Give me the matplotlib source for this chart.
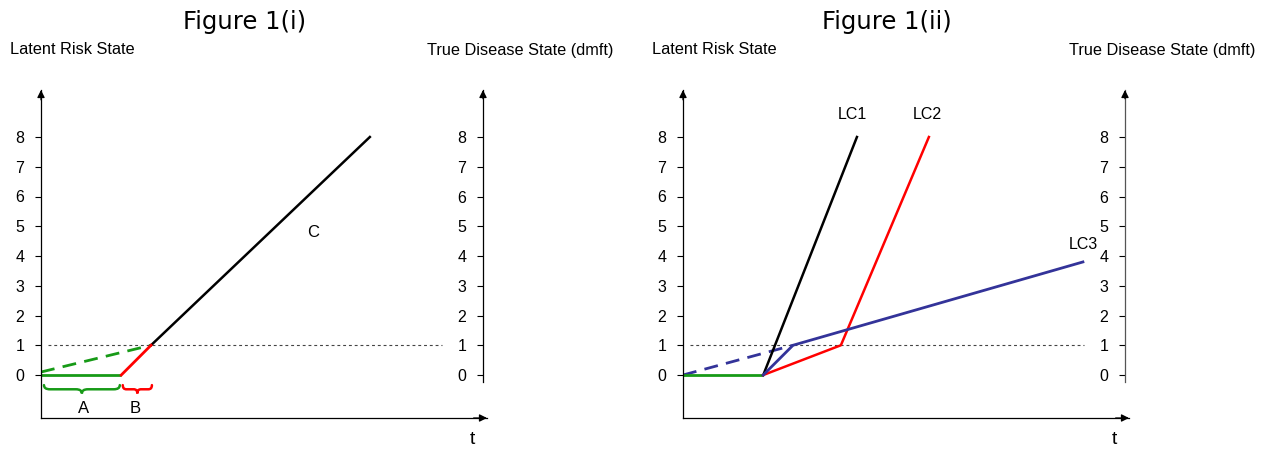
import numpy as np
import matplotlib
matplotlib.use("Agg")
import matplotlib.pyplot as plt
from matplotlib.path import Path
from matplotlib.patches import PathPatch

W, H = 1265, 450
DPI = 100

# ---- data (x in time units, y in risk / dmft units) ----
yticks = [0, 1, 2, 3, 4, 5, 6, 7, 8]
threshold = 1.0

# Figure 1(i)
p1_green_x = [0.0, 2.7]
p1_green_y = [0.0, 0.0]
p1_gdash_x = [0.0, 3.7]
p1_gdash_y = [0.1, 1.0]
p1_red_x = [2.7, 3.7]
p1_red_y = [0.0, 1.0]
p1_black_x = [3.7, 11.06]
p1_black_y = [1.0, 8.0]

# Figure 1(ii)
p2_green_x = [0.0, 2.7]
p2_green_y = [0.0, 0.0]
p2_bdash_x = [0.0, 3.7]
p2_bdash_y = [0.0, 1.0]
lc1_x = [2.7, 5.85]
lc1_y = [0.0, 8.0]
lc2_x = [2.7, 5.31, 8.27]
lc2_y = [0.0, 1.0, 8.0]
lc3_x = [2.7, 3.7, 13.45]
lc3_y = [0.0, 1.0, 3.8]

GREEN = "#179a17"
RED = "#ff0000"
BLUE = "#333399"
SANS = "Liberation Sans"
TICK_FS = 11.5

fig = plt.figure(figsize=(W / DPI, H / DPI), dpi=DPI)

PX = 29.75  # pixels per data unit
YMIN, YMAX = -43 / PX, 285 / PX
XMAX = 15.0


def px_rect(left, top, right, bottom):
    return [left / W, 1 - bottom / H, (right - left) / W, (bottom - top) / H]


def arrow(ax, start, end, color="black"):
    ax.annotate("", xy=end, xytext=start, xycoords="axes fraction",
                textcoords="axes fraction",
                arrowprops=dict(arrowstyle="-|>", color=color, lw=0.9,
                                mutation_scale=11, shrinkA=0, shrinkB=0),
                annotation_clip=False)


def brace(ax, x0, x1, y, depth, color, r=0.2):
    xm = (x0 + x1) / 2
    h = depth / 2
    verts = [(x0, y), (x0, y - h), (x0 + r, y - h),
             (xm - r, y - h),
             (xm, y - h), (xm, y - depth),
             (xm, y - h), (xm + r, y - h),
             (x1 - r, y - h),
             (x1, y - h), (x1, y)]
    codes = [Path.MOVETO, Path.CURVE3, Path.CURVE3,
             Path.LINETO,
             Path.CURVE3, Path.CURVE3,
             Path.CURVE3, Path.CURVE3,
             Path.LINETO,
             Path.CURVE3, Path.CURVE3]
    ax.add_patch(PathPatch(Path(verts, codes), fill=False, edgecolor=color,
                           lw=1.8, clip_on=False, capstyle="round"))


def style_ticks(a):
    a.set_xticks([])
    a.set_yticks(yticks)
    a.tick_params(axis="y", direction="out", length=4, width=0.8, pad=8,
                  labelsize=TICK_FS)
    for lab in a.get_yticklabels():
        lab.set_fontfamily(SANS)


def make_panel(x0px, title, raxis_color="black"):
    ax = fig.add_axes(px_rect(x0px, 90, x0px + 446, 418))
    ax.set_xlim(0, XMAX)
    ax.set_ylim(YMIN, YMAX)
    ax.patch.set_visible(False)
    for s in ("top", "right"):
        ax.spines[s].set_visible(False)
    for s in ("left", "bottom"):
        ax.spines[s].set_linewidth(0.9)
    style_ticks(ax)
    arrow(ax, (0, 0.97), (0, 1.0))
    arrow(ax, (0.97, 0), (1.0, 0))

    # right-hand axis: true disease state
    rax = fig.add_axes(px_rect(x0px + 442, 90, x0px + 443, 382))
    rax.set_ylim(-7 / PX, YMAX)
    rax.patch.set_visible(False)
    for s in ("top", "right", "bottom"):
        rax.spines[s].set_visible(False)
    rax.spines["left"].set_linewidth(0.9)
    rax.spines["left"].set_color(raxis_color)
    style_ticks(rax)
    arrow(rax, (0, 0.97), (0, 1.0))

    # threshold line
    ax.plot([0.24, 13.5], [threshold, threshold], color="#444444", lw=0.8,
            dashes=(2.6, 2.6))

    fig.text((x0px + 204) / W, 1 - 22 / H, title, fontsize=17.5,
             family="DejaVu Sans", ha="center", va="center")
    fig.text((x0px - 31) / W, 1 - 50 / H, "Latent Risk State", fontsize=11.8,
             family=SANS, ha="left", va="center")
    fig.text((x0px + 479) / W, 1 - 50 / H, "True Disease State (dmft)",
             fontsize=11.7, family=SANS, ha="center", va="center")
    ax.text(14.5, -65 / PX, "t", fontsize=14, family=SANS, ha="center",
            va="center", clip_on=False)
    return ax


# ---- Figure 1(i) ----
ax1 = make_panel(41, "Figure 1(i)")
ax1.plot(p1_gdash_x, p1_gdash_y, color=GREEN, lw=2, dashes=(5, 3))
ax1.plot(p1_green_x, p1_green_y, color=GREEN, lw=2, solid_capstyle="butt")
ax1.plot(p1_black_x, p1_black_y, color="black", lw=1.8)
ax1.plot(p1_red_x, p1_red_y, color=RED, lw=2)
ax1.text(9.14, 4.8, "C", fontsize=12, family=SANS, ha="center", va="center")
brace(ax1, 0.1, 2.65, -0.34, 0.28, GREEN)
brace(ax1, 2.75, 3.73, -0.34, 0.28, RED, r=0.12)
ax1.text(1.42, -1.12, "A", fontsize=12, family=SANS, ha="center", va="center")
ax1.text(3.17, -1.12, "B", fontsize=12, family=SANS, ha="center", va="center")

# ---- Figure 1(ii) ----
ax2 = make_panel(683, "Figure 1(ii)", raxis_color="#555555")
ax2.plot(p2_bdash_x, p2_bdash_y, color=BLUE, lw=2, dashes=(5, 3))
ax2.plot(p2_green_x, p2_green_y, color=GREEN, lw=2, solid_capstyle="butt")
ax2.plot(lc1_x, lc1_y, color="black", lw=1.8)
ax2.plot(lc2_x, lc2_y, color=RED, lw=1.8)
ax2.plot(lc3_x, lc3_y, color=BLUE, lw=2)
ax2.text(5.71, 8.74, "LC1", fontsize=11.5, family=SANS, ha="center", va="center")
ax2.text(8.2, 8.74, "LC2", fontsize=11.5, family=SANS, ha="center", va="center")
ax2.text(13.45, 4.37, "LC3", fontsize=11.5, family=SANS, ha="center", va="center")

fig.savefig("out.png", dpi=DPI)
